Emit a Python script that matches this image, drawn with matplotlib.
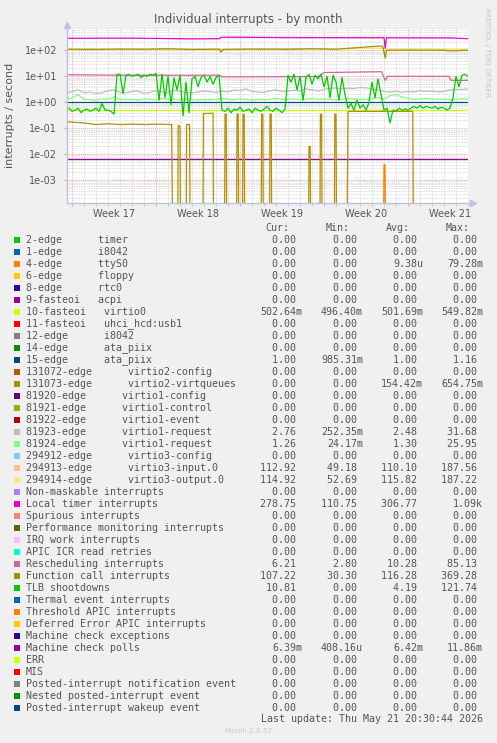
import numpy as np
import matplotlib
matplotlib.use('Agg')
import matplotlib.pyplot as plt
from matplotlib.patches import Rectangle

# ---------------- data (time in days since Monday of week 17) ----------------
week_labels = ["Week 17", "Week 18", "Week 19", "Week 20", "Week 21"]
week_starts = [0, 7, 14, 21, 28]
x_min, x_max = -0.42, 33.0

# TLB shootdowns, sampled every 6 hours from day -0.5 to day 33
t_tlb = np.arange(-0.5, 33.01, 0.25)
v_tlb = [0.55, 0.6, 0.45, 0.5, 0.6, 0.4, 0.5, 0.55, 0.45, 0.5, 0.6, 0.45, 0.9, 0.5, 0.5, 0.45, 0.35,
         12,
         12, 2.2, 11, 12, 10, 11, 12, 9, 11, 10, 12, 11, 13,
         1.2, 12, 1.5, 10, 0.8, 9, 3, 11, 0.3, 6, 0.4,
         8, 10, 4, 9, 11, 6, 10, 5, 9, 11,
         0.5, 0.45, 0.6, 0.4, 0.55, 0.5, 0.65, 0.45, 0.5, 0.55, 0.4, 0.6, 0.5, 0.45, 0.55, 0.7,
         0.5, 0.45, 0.6, 0.5, 0.4, 0.55,
         11, 6, 12, 3, 10, 1.2, 9, 12, 5, 11, 8, 12, 4, 10, 1.5, 11, 6, 1.2, 9, 2,
         0.6, 0.9, 0.5, 1.2, 0.6, 0.8, 0.5, 1.0,
         6, 1.5, 8, 2,
         0.5, 0.6, 0.16, 0.5, 0.45, 0.6, 0.5, 0.55, 0.5, 0.6, 0.7, 0.6, 0.75, 0.6, 0.7, 0.65, 0.6,
         0.7, 0.55, 0.65, 0.6, 0.5,
         0.6, 1.5, 10, 4, 11, 12, 10]

t_virtq = [-0.42, 0.2, 1, 2, 3, 4, 5, 6, 7, 8.3, 8.4, 8.8, 8.85, 9.0, 9.05, 9.5, 9.55, 9.8, 9.85,
           10.9, 10.95, 11.75, 11.8, 12.7, 12.75, 12.85, 12.9, 13.7, 13.75, 13.85, 13.9, 14.2,
           14.25, 14.35, 14.4, 15.75, 15.8, 15.9, 15.95, 16.45, 16.5, 16.6, 16.65, 19.7, 19.75,
           19.85, 19.9, 20.65, 20.7, 20.8, 20.85, 21.85, 21.9, 22.0, 22.05, 22.9, 23.0, 28.4,
           28.45, 33.0]
v_virtq = [0.18, 0.17, 0.16, 0.14, 0.15, 0.14, 0.145, 0.14, 0.145, 0.14, 1e-6, 1e-6, 0.13, 0.12,
           1e-6, 1e-6, 0.14, 0.14, 1e-6, 1e-6, 0.37, 0.38, 1e-6, 1e-6, 0.35, 0.35, 1e-6, 1e-6,
           0.35, 0.35, 1e-6, 1e-6, 0.35, 0.35, 1e-6, 1e-6, 0.35, 0.35, 1e-6, 1e-6, 0.35, 0.35,
           1e-6, 1e-6, 0.02, 0.02, 1e-6, 1e-6, 0.35, 0.35, 1e-6, 1e-6, 0.35, 0.35, 1e-6, 1e-6,
           0.45, 0.45, 1e-6, 1e-6]

t_loc = [-0.42, 5, 10, 12.3, 12.4, 18, 26.0, 26.1, 26.2, 31.5, 33]
v_loc = [290, 295, 275, 280, 320, 310, 305, 120, 305, 300, 280]

t_cal = [-0.42, 2, 4, 6, 8, 10, 12.3, 12.4, 12.6, 15, 18, 20, 22, 25.5, 25.9, 26.1, 26.2, 28, 31,
         31.5, 33]
v_cal = [110, 108, 112, 110, 115, 108, 110, 85, 108, 112, 110, 115, 110, 145, 145, 50, 100, 102,
         100, 95, 100]

t_vin = [-0.42, 12.3, 12.4, 25.9, 26.1, 26.2, 33]
v_vin = [112, 112, 108, 118, 55, 110, 108]
v_vout = [115, 115, 111, 121, 58, 113, 111]

t_res = [-0.42, 5, 12.3, 12.5, 20.5, 21, 25.8, 26.1, 26.3, 31.4, 31.6, 33]
v_res = [11.5, 11, 11, 9.5, 9.8, 14, 15, 7, 10, 10, 7, 7]

# virtio1-request pair, sampled every 12 hours
t_half = np.arange(-0.5, 33.01, 0.5)
v_req1 = [2.2, 2.6, 3.0, 2.3, 2.5, 2.2, 2.3, 2.8, 3.0, 2.4, 2.3, 2.6, 2.7, 2.2, 2.4, 2.8, 2.5,
          2.3, 2.9, 2.6, 2.4, 2.3, 2.5, 2.7, 2.6, 2.4, 2.7, 2.5, 3.0, 2.8, 3.3, 2.6, 2.5, 2.4,
          2.8, 3.0, 2.6, 2.7, 2.9, 2.8, 3.3, 3.0, 2.7, 3.2, 3.4, 3.6, 3.3, 3.5, 3.4, 3.7, 3.6,
          3.3, 3.0, 2.6, 2.5, 2.7, 2.4, 2.6, 2.5, 2.8, 2.6, 2.7, 2.5, 2.6, 3.0, 3.2, 3.1, 3.3]
v_req2 = [1.3, 1.45, 2.0, 1.3, 1.25, 1.2, 1.35, 1.3, 1.6, 1.3, 1.25, 1.3, 1.2, 1.35, 1.3, 1.25,
          1.4, 1.3, 1.3, 1.25, 1.35, 1.3, 1.2, 1.3, 1.25, 1.3, 1.4, 1.3, 1.25, 1.35, 1.3, 1.2,
          1.3, 1.25, 1.3, 1.4, 1.3, 1.3, 1.35, 1.25, 1.3, 1.4, 1.3, 1.35, 1.3, 1.25, 1.3, 1.4,
          1.35, 1.3, 1.3, 1.35, 1.5, 1.3, 1.8, 2.0, 1.6, 1.4, 1.3, 1.35, 1.4, 1.3, 1.35, 1.3, 1.25,
          1.3, 1.4, 1.3]

t_flat = [x_min, x_max]
v_ata15 = [1.0, 1.0]
v_virtio0 = [0.5, 0.5]
v_mcp = [0.0064, 0.0064]

t_tty = [25.95, 26.0, 26.08, 26.16]
v_tty = [1e-6, 0.004, 0.004, 1e-6]

# legend
labels = ["2-edge      timer", "1-edge      i8042", "4-edge      ttyS0", "6-edge      floppy",
          "8-edge      rtc0", "9-fasteoi   acpi", "10-fasteoi   virtio0",
          "11-fasteoi   uhci_hcd:usb1", "12-edge      i8042", "14-edge      ata_piix",
          "15-edge      ata_piix", "131072-edge      virtio2-config",
          "131073-edge      virtio2-virtqueues", "81920-edge      virtio1-config",
          "81921-edge      virtio1-control", "81922-edge      virtio1-event",
          "81923-edge      virtio1-request", "81924-edge      virtio1-request",
          "294912-edge      virtio3-config", "294913-edge      virtio3-input.0",
          "294914-edge      virtio3-output.0", "Non-maskable interrupts", "Local timer interrupts",
          "Spurious interrupts", "Performance monitoring interrupts", "IRQ work interrupts",
          "APIC ICR read retries", "Rescheduling interrupts", "Function call interrupts",
          "TLB shootdowns", "Thermal event interrupts", "Threshold APIC interrupts",
          "Deferred Error APIC interrupts", "Machine check exceptions", "Machine check polls",
          "ERR", "MIS", "Posted-interrupt notification event", "Nested posted-interrupt event",
          "Posted-interrupt wakeup event"]
Z = "0.00"
cur = [Z, Z, Z, Z, Z, Z, "502.64m", Z, Z, Z, "1.00", Z, Z, Z, Z, Z, "2.76", "1.26", Z, "112.92",
       "114.92", Z, "278.75", Z, Z, Z, Z, "6.21", "107.22", "10.81", Z, Z, Z, Z, "6.39m", Z, Z, Z, Z, Z]
mins = [Z, Z, Z, Z, Z, Z, "496.40m", Z, Z, Z, "985.31m", Z, Z, Z, Z, Z, "252.35m", "24.17m", Z,
        "49.18", "52.69", Z, "110.75", Z, Z, Z, Z, "2.80", "30.30", Z, Z, Z, Z, Z, "408.16u", Z, Z,
        Z, Z, Z]
avgs = [Z, Z, "9.38u", Z, Z, Z, "501.69m", Z, Z, Z, "1.00", Z, "154.42m", Z, Z, Z, "2.48", "1.30",
        Z, "110.10", "115.82", Z, "306.77", Z, Z, Z, Z, "10.28", "116.28", "4.19", Z, Z, Z, Z,
        "6.42m", Z, Z, Z, Z, Z]
maxs = [Z, Z, "79.28m", Z, Z, Z, "549.82m", Z, Z, Z, "1.16", Z, "654.75m", Z, Z, Z, "31.68",
        "25.95", Z, "187.56", "187.22", Z, "1.09k", Z, Z, Z, Z, "85.13", "369.28", "121.74", Z, Z,
        Z, Z, "11.86m", Z, Z, Z, Z, Z]
colors = ["#00CC00", "#0066B3", "#FF8000", "#FFCC00", "#330099", "#990099", "#CCFF00", "#FF0000",
          "#808080", "#008F00", "#00487D", "#B35A00", "#B38F00", "#6B006B", "#8FB300", "#B30000",
          "#BEBEBE", "#80FF80", "#80C9FF", "#FFC080", "#FFE680", "#AA80FF", "#EE00CC", "#FF8080",
          "#666600", "#FFBFFF", "#00FFCC", "#CC6699", "#999900", "#00CC00", "#0066B3", "#FF8000",
          "#FFCC00", "#330099", "#990099", "#CCFF00", "#FF0000", "#808080", "#008F00", "#00487D"]

# ---------------- figure ----------------
W, H = 497, 743
fig = plt.figure(figsize=(W / 100, H / 100), dpi=100, facecolor='#F0F0F0')
L, R, T, B = 67, 468, 28, 203
ax = fig.add_axes([L / W, 1 - B / H, (R - L) / W, (B - T) / H])
ax.set_facecolor('white')
ax.set_yscale('log')
ax.set_xlim(x_min, x_max)
ax.set_ylim(1.34e-4, 722)

minor_c = '#D4D4D4'
major_c = '#F2A8A8'
dots = (0, (1, 1))
# grid
for d in range(0, 34):
    if d not in week_starts:
        ax.axvline(d, color=minor_c, lw=0.6, ls=dots, zorder=0)
for k in range(-4, 3):
    for m in range(2, 10):
        ax.axhline(m * 10.0 ** k, color=minor_c, lw=0.6, ls=dots, zorder=0)
for k in range(-3, 3):
    ax.axhline(10.0 ** k, color=major_c, lw=0.7, ls=dots, zorder=0.5)
for w in week_starts:
    ax.axvline(w, color=major_c, lw=0.7, ls=dots, zorder=0.5)

lw = 0.9
series = [
    (t_tty, v_tty, colors[2]),
    (t_flat, v_mcp, colors[34]),
    (t_flat, v_virtio0, colors[6]),
    (t_flat, v_ata15, colors[10]),
    (t_virtq, v_virtq, colors[12]),
    (t_half, v_req1, colors[16]),
    (t_half, v_req2, colors[17]),
    (t_vin, v_vin, colors[19]),
    (t_vin, v_vout, colors[20]),
    (t_loc, v_loc, colors[22]),
    (t_res, v_res, colors[27]),
    (t_cal, v_cal, colors[28]),
    (t_tlb, v_tlb, colors[29]),
]
for tt, vv, c in series:
    ax.plot(tt, vv, color=c, lw=lw, zorder=2)

axis_c = '#B8C2E4'
for s in ['top', 'right']:
    ax.spines[s].set_visible(False)
for s in ['left', 'bottom']:
    ax.spines[s].set_color(axis_c)
    ax.spines[s].set_linewidth(1.0)
ax.plot([1.012], [0], marker='>', color=axis_c, ms=4.5, transform=ax.transAxes, clip_on=False)
ax.plot([0], [1.02], marker='^', color=axis_c, ms=4.5, transform=ax.transAxes, clip_on=False)

ax.set_xticks(week_starts)
ax.set_xticks(range(0, 34), minor=True)
ax.set_xticklabels([])
ax.tick_params(axis='x', which='major', length=2.5, color='#F0A0A0', width=0.8)
ax.tick_params(axis='x', which='minor', length=2, color='#C8C8C8', width=0.8)
for lab, w in zip(week_labels, week_starts):
    ax.text(w + 3.5, -0.035, lab, transform=ax.get_xaxis_transform(), ha='center', va='top',
            fontsize=7, color='#555555')

ax.set_yticks([10.0 ** k for k in range(-3, 3)])
ax.set_yticklabels(["1e-03", "1e-02", "1e-01", "1e+00", "1e+01", "1e+02"])
ax.yaxis.set_minor_locator(matplotlib.ticker.NullLocator())
ax.tick_params(axis='y', which='major', length=2, color='#F0A0A0', labelsize=7, labelcolor='#555555',
               pad=5)

fig.text(10 / W, 1 - 115 / H, "interrupts / second", rotation=90, ha='center', va='center',
         fontsize=8, color='#555555')
fig.text(248.5 / W, 1 - 19 / H, "Individual interrupts - by month", ha='center', va='center',
         fontsize=8.5, color='#555555')
fig.text(487 / W, 1 - 52 / H, "RRDTOOL / TOBI OETIKER", rotation=270, ha='center', va='center',
         fontsize=5, color='#C4C4C4')

# legend
mono = 'DejaVu Sans Mono'
fs = 7.2
tc = '#555555'
def fy(py):
    return 1 - py / H
for hdr, xr in zip(["Cur:", "Min:", "Avg:", "Max:"], [289, 350, 410, 470]):
    fig.text(xr / W, fy(228), hdr, ha='right', va='center', family=mono, fontsize=fs, color=tc)
for i, lab in enumerate(labels):
    y = 240 + 12 * i
    fig.patches.append(Rectangle((14 / W, fy(y + 3)), 6 / W, 6 / H, transform=fig.transFigure,
                                 facecolor=colors[i], edgecolor='none'))
    fig.text(26 / W, fy(y), lab, ha='left', va='center', family=mono, fontsize=fs, color=tc)
    for vals, xr in zip([cur, mins, avgs, maxs], [302.5, 363, 423, 483]):
        s = vals[i]
        if s[-1].isdigit():
            s = s + " "
        fig.text(xr / W, fy(y), s, ha='right', va='center', family=mono, fontsize=fs, color=tc)
fig.text(483 / W, fy(719), "Last update: Thu May 21 20:30:44 2026", ha='right', va='center',
         family=mono, fontsize=fs, color=tc)
fig.text(248.5 / W, fy(731), "Munin 2.0.57", ha='center', va='center', fontsize=5.2,
         color='#C8C8C8')

fig.savefig('out.png', dpi=100, facecolor=fig.get_facecolor())
